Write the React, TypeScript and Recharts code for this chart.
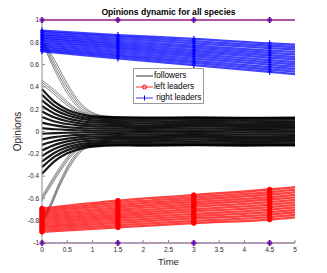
import React from 'react';
import { ComposedChart, Line, XAxis, YAxis, Legend, Label } from 'recharts';

const FONT = '"Liberation Sans", Arial, Helvetica, sans-serif';

const titleText = 'Opinions dynamic for all species';
const xLabel = 'Time';
const yLabel = 'Opinions';

const xTicks = [0, 0.5, 1, 1.5, 2, 2.5, 3, 3.5, 4, 4.5, 5];
const yTicks = [-1, -0.8, -0.6, -0.4, -0.2, 0, 0.2, 0.4, 0.6, 0.8, 1];
const markerX = [0, 1.5, 3, 4.5];

// leaders: values at x = 0, 1.5, 3, 4.5, 5
const leaderX = [0, 1.5, 3, 4.5, 5];
const rightLeaders = [
  [0.905, 0.865, 0.83, 0.79, 0.78],
  [0.89, 0.848, 0.81, 0.769, 0.758],
  [0.874, 0.83, 0.791, 0.748, 0.736],
  [0.859, 0.813, 0.771, 0.726, 0.714],
  [0.843, 0.795, 0.752, 0.705, 0.692],
  [0.828, 0.778, 0.732, 0.684, 0.67],
  [0.812, 0.76, 0.713, 0.663, 0.648],
  [0.797, 0.743, 0.693, 0.641, 0.625],
  [0.782, 0.725, 0.673, 0.62, 0.603],
  [0.766, 0.708, 0.654, 0.599, 0.581],
  [0.751, 0.69, 0.634, 0.578, 0.559],
  [0.735, 0.673, 0.615, 0.556, 0.537],
  [0.72, 0.655, 0.595, 0.535, 0.515],
];
const leftLeaders = [
  [-0.69, -0.62, -0.57, -0.52, -0.5],
  [-0.708, -0.64, -0.591, -0.543, -0.523],
  [-0.725, -0.66, -0.612, -0.565, -0.545],
  [-0.743, -0.68, -0.633, -0.588, -0.568],
  [-0.76, -0.7, -0.654, -0.61, -0.59],
  [-0.778, -0.72, -0.675, -0.633, -0.613],
  [-0.795, -0.74, -0.696, -0.655, -0.635],
  [-0.813, -0.76, -0.717, -0.678, -0.658],
  [-0.83, -0.78, -0.738, -0.7, -0.68],
  [-0.848, -0.8, -0.759, -0.723, -0.703],
  [-0.865, -0.82, -0.78, -0.745, -0.725],
  [-0.883, -0.84, -0.801, -0.768, -0.748],
  [-0.9, -0.86, -0.822, -0.79, -0.77],
];
const topLeader = [1, 1, 1, 1, 1];
const bottomLeader = [-1, -1, -1, -1, -1];

// followers core: values at x = 0, 0.25, 0.5, 0.75, 1, 1.5, 2, 3, 4, 5
const followerX = [0, 0.25, 0.5, 0.75, 1, 1.5, 2, 3, 4, 5];
const followerCore = [
  [0.38, 0.265, 0.196, 0.156, 0.135, 0.126, 0.124, 0.127, 0.123, 0.125],
  [0.33, 0.23, 0.17, 0.135, 0.117, 0.109, 0.107, 0.11, 0.106, 0.108],
  [0.28, 0.195, 0.145, 0.115, 0.1, 0.093, 0.09, 0.094, 0.091, 0.092],
  [0.23, 0.16, 0.118, 0.094, 0.081, 0.076, 0.073, 0.077, 0.074, 0.075],
  [0.18, 0.125, 0.092, 0.073, 0.063, 0.059, 0.056, 0.06, 0.057, 0.058],
  [0.13, 0.09, 0.067, 0.053, 0.046, 0.043, 0.04, 0.044, 0.041, 0.042],
  [0.08, 0.055, 0.04, 0.032, 0.027, 0.026, 0.023, 0.027, 0.024, 0.025],
  [0.03, 0.02, 0.014, 0.011, 0.009, 0.009, 0.006, 0.01, 0.007, 0.008],
  [-0.02, -0.015, -0.011, -0.009, -0.008, -0.007, -0.01, -0.006, -0.009, -0.008],
  [-0.07, -0.05, -0.038, -0.03, -0.027, -0.024, -0.027, -0.023, -0.026, -0.025],
  [-0.12, -0.085, -0.064, -0.051, -0.045, -0.041, -0.044, -0.04, -0.043, -0.042],
  [-0.17, -0.12, -0.089, -0.071, -0.062, -0.057, -0.06, -0.056, -0.059, -0.058],
  [-0.22, -0.155, -0.116, -0.092, -0.081, -0.074, -0.077, -0.073, -0.076, -0.075],
  [-0.27, -0.19, -0.142, -0.113, -0.099, -0.091, -0.094, -0.09, -0.093, -0.092],
  [-0.32, -0.225, -0.167, -0.133, -0.116, -0.107, -0.11, -0.106, -0.109, -0.108],
  [-0.38, -0.265, -0.196, -0.156, -0.135, -0.124, -0.127, -0.123, -0.126, -0.125],
];

// follower ropes coming down from the top
const ropeAX = [0, 0.1, 0.25, 0.5, 0.75, 1, 1.25, 2, 5];
const ropeA = [
  [0.8, 0.7, 0.55, 0.34, 0.2, 0.14, 0.125, 0.12, 0.12],
  [0.82, 0.72, 0.58, 0.37, 0.22, 0.15, 0.13, 0.122, 0.12],
  [0.84, 0.74, 0.61, 0.4, 0.24, 0.16, 0.135, 0.124, 0.122],
  [0.86, 0.76, 0.64, 0.43, 0.26, 0.17, 0.14, 0.126, 0.124],
];
const ropeBX = [0, 0.2, 0.4, 0.6, 0.8, 1, 1.5, 5];
const ropeB = [
  [0.42, 0.35, 0.27, 0.2, 0.15, 0.13, 0.12, 0.12],
  [0.44, 0.37, 0.29, 0.215, 0.16, 0.135, 0.122, 0.12],
  [0.46, 0.39, 0.31, 0.23, 0.17, 0.14, 0.124, 0.121],
];
// follower ropes coming up from the bottom
const ropeC1X = [0, 0.2, 0.4, 0.6, 0.8, 1, 1.5, 5];
const ropeC1 = [
  [-0.58, -0.43, -0.29, -0.18, -0.135, -0.122, -0.12, -0.12],
  [-0.6, -0.45, -0.31, -0.195, -0.14, -0.125, -0.121, -0.12],
  [-0.62, -0.47, -0.33, -0.21, -0.145, -0.128, -0.122, -0.121],
];
const ropeC2X = [0, 0.13, 0.36, 0.6, 0.8, 1, 1.5, 5];
const ropeC2 = [
  [-0.78, -0.68, -0.44, -0.24, -0.15, -0.125, -0.12, -0.12],
  [-0.8, -0.7, -0.46, -0.26, -0.16, -0.13, -0.122, -0.121],
  [-0.82, -0.72, -0.48, -0.28, -0.17, -0.135, -0.124, -0.122],
];

const toPts = (xs: number[], ys: number[]) => xs.map((x, i) => ({ x, y: ys[i] }));

const plusDot = (color: string, opacity = 1) => (props: any) => {
  const { cx, cy, payload, index } = props;
  if (!payload || !markerX.includes(payload.x)) return <g key={`p${index}`} />;
  return (
    <g key={`p${index}`} stroke={color} strokeOpacity={opacity} strokeWidth={1.2}>
      <line x1={cx - 2} x2={cx + 2} y1={cy} y2={cy} />
      <line x1={cx} x2={cx} y1={cy - 3} y2={cy + 3} />
    </g>
  );
};
const circleDot = (color: string, opacity = 1, filled = true) => (props: any) => {
  const { cx, cy, payload, index } = props;
  if (!payload || !markerX.includes(payload.x)) return <g key={`c${index}`} />;
  return (
    <circle
      key={`c${index}`}
      cx={cx}
      cy={cy}
      r={2.3}
      fill={filled ? color : 'none'}
      stroke={color}
      strokeOpacity={opacity}
      strokeWidth={1}
    />
  );
};

const legendItems = [
  { label: 'followers', color: '#000000', marker: 'none' },
  { label: 'left leaders', color: '#ff0000', marker: 'circle' },
  { label: ' right leaders', color: '#0000ff', marker: 'plus' },
];

const LegendBox = () => (
  <div
    style={{
      width: 71,
      height: 36,
      border: '1px solid #9a9a9a',
      background: '#ffffff',
      boxSizing: 'border-box',
      fontFamily: FONT,
      fontSize: 8.2,
      color: '#000',
      paddingTop: 2,
    }}
  >
    {legendItems.map((it) => (
      <div key={it.label} style={{ display: 'flex', alignItems: 'center', height: 10.7, whiteSpace: 'pre' }}>
        <svg width={19} height={8} style={{ marginLeft: 1 }}>
          <line x1={1} x2={18} y1={4} y2={4} stroke={it.color} strokeWidth={0.8} />
          {it.marker === 'circle' && <circle cx={9.5} cy={4} r={2} fill="none" stroke={it.color} strokeWidth={1} />}
          {it.marker === 'plus' && (
            <g stroke={it.color} strokeWidth={1}>
              <line x1={9.5} x2={9.5} y1={1.5} y2={6.5} />
            </g>
          )}
        </svg>
        <span style={{ lineHeight: '10px' }}>{it.label}</span>
      </div>
    ))}
  </div>
);

export default function App() {
  const axisColor = '#8c8c8c';
  const tickStyle = { fontSize: 6.5, fill: '#262626', fontFamily: FONT };
  const ropes = [
    ...ropeA.map((ys) => toPts(ropeAX, ys)),
    ...ropeB.map((ys) => toPts(ropeBX, ys)),
    ...ropeC1.map((ys) => toPts(ropeC1X, ys)),
    ...ropeC2.map((ys) => toPts(ropeC2X, ys)),
  ];
  return (
    <div style={{ position: 'absolute', left: 0, top: 0, width: 327, height: 273, background: '#fff' }}>
      <div
        style={{
          position: 'absolute',
          left: 0,
          top: 7,
          width: 337,
          textAlign: 'center',
          fontFamily: FONT,
          fontWeight: 'bold',
          fontSize: 8.6,
          color: '#000',
          lineHeight: '10px',
          zIndex: 2,
        }}
      >
        {titleText}
      </div>
      <ComposedChart width={327} height={273} margin={{ top: 20, right: 32, bottom: 0, left: 0 }}>
        <XAxis
          xAxisId="b"
          type="number"
          dataKey="x"
          domain={[0, 5]}
          ticks={xTicks}
          orientation="bottom"
          height={30}
          tickSize={-3}
          tickMargin={7}
          stroke={axisColor}
          tick={tickStyle}
          interval={0}
        >
          <Label value={xLabel} position="insideBottom" offset={8} style={{ fontSize: 9.5, fill: '#262626', fontFamily: FONT }} />
        </XAxis>
        <XAxis
          xAxisId="t"
          type="number"
          dataKey="x"
          domain={[0, 5]}
          ticks={xTicks}
          orientation="top"
          height={0}
          tickSize={-3}
          stroke={axisColor}
          tick={false}
          interval={0}
        />
        <YAxis
          yAxisId="l"
          type="number"
          domain={[-1, 1]}
          ticks={yTicks}
          orientation="left"
          width={42}
          tickSize={-3}
          tickMargin={6}
          stroke={axisColor}
          tick={tickStyle}
          interval={0}
        >
          <Label value={yLabel} angle={-90} position="insideLeft" offset={17} style={{ fontSize: 10, fill: '#262626', fontFamily: FONT, textAnchor: 'middle' }} />
        </YAxis>
        <YAxis
          yAxisId="r"
          type="number"
          domain={[-1, 1]}
          ticks={yTicks}
          orientation="right"
          width={0}
          tickSize={-3}
          stroke={axisColor}
          tick={false}
          interval={0}
        />
        <Legend
          verticalAlign="middle"
          align="center"
          layout="horizontal"
          content={() => <LegendBox />}
          wrapperStyle={{ position: 'absolute', left: 133, top: 68, width: 71, height: 36 }}
        />

        {followerCore.map((ys, i) => (
          <Line key={`core${i}`} xAxisId="b" yAxisId="l" data={toPts(followerX, ys)} dataKey="y" type="monotone" stroke="#000" strokeOpacity={0.9} strokeWidth={2.2} dot={false} activeDot={false} isAnimationActive={false} legendType="none" />
        ))}
        {ropes.map((pts, i) => (
          <Line key={`rope${i}`} xAxisId="b" yAxisId="l" data={pts} dataKey="y" type="monotone" stroke="#000" strokeOpacity={0.6} strokeWidth={0.8} dot={false} activeDot={false} isAnimationActive={false} legendType="none" />
        ))}
        {leftLeaders.map((ys, i) => (
          <Line key={`left${i}`} xAxisId="b" yAxisId="l" data={toPts(leaderX, ys)} dataKey="y" type="monotone" stroke="#ff0000" strokeOpacity={0.75} strokeWidth={2.3} dot={circleDot('#ff0000')} activeDot={false} isAnimationActive={false} legendType="none" />
        ))}
        {rightLeaders.map((ys, i) => (
          <Line key={`right${i}`} xAxisId="b" yAxisId="l" data={toPts(leaderX, ys)} dataKey="y" type="monotone" stroke="#0000ff" strokeOpacity={0.75} strokeWidth={2.3} dot={plusDot('#0000ff')} activeDot={false} isAnimationActive={false} legendType="none" />
        ))}
        <Line xAxisId="b" yAxisId="l" data={toPts(leaderX, bottomLeader)} dataKey="y" type="linear" stroke="#ff0000" strokeOpacity={0.35} strokeWidth={1.2} dot={circleDot('#ff0000', 0.8, false)} activeDot={false} isAnimationActive={false} legendType="none" />
        <Line xAxisId="b" yAxisId="l" data={toPts(leaderX, bottomLeader)} dataKey="y" type="linear" stroke="#0000ff" strokeOpacity={0.35} strokeWidth={1.2} dot={plusDot('#0000ff')} activeDot={false} isAnimationActive={false} legendType="none" />
        <Line xAxisId="b" yAxisId="l" data={toPts(leaderX, topLeader)} dataKey="y" type="linear" stroke="#ff0000" strokeWidth={1.2} dot={circleDot('#ff0000', 0.8, false)} activeDot={false} isAnimationActive={false} legendType="none" />
        <Line xAxisId="b" yAxisId="l" data={toPts(leaderX, topLeader)} dataKey="y" type="linear" stroke="#0000ff" strokeOpacity={0.65} strokeWidth={1.2} dot={plusDot('#0000ff')} activeDot={false} isAnimationActive={false} legendType="none" />
      </ComposedChart>
    </div>
  );
}
